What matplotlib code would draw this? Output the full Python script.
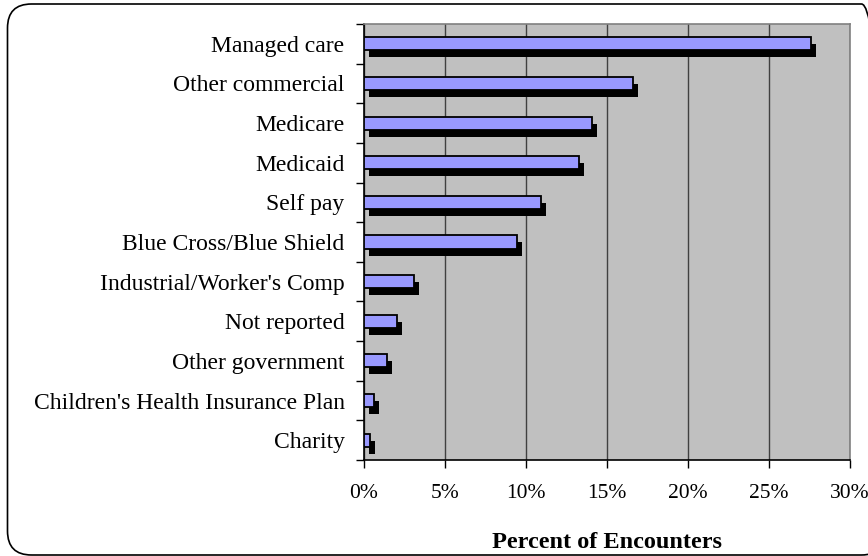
import numpy as np
import matplotlib
matplotlib.use('Agg')
import matplotlib.pyplot as plt
import matplotlib.transforms as mtransforms
from matplotlib.patches import FancyBboxPatch

categories = ['Managed care', 'Other commercial', 'Medicare', 'Medicaid', 'Self pay',
              'Blue Cross/Blue Shield', "Industrial/Worker's Comp", 'Not reported',
              'Other government', "Children's Health Insurance Plan", 'Charity']
values = [27.6, 16.6, 14.05, 13.3, 10.95, 9.45, 3.1, 2.05, 1.45, 0.6, 0.35]
xticks = [0, 5, 10, 15, 20, 25, 30]
xticklabels = ['0%', '5%', '10%', '15%', '20%', '25%', '30%']

plt.rcParams['font.family'] = ['Liberation Serif', 'DejaVu Serif']

fig = plt.figure(figsize=(8.68, 5.56), dpi=100)
ax = fig.add_axes([364/868, 96/556, 486/868, 436/556])
ax.set_facecolor('#C0C0C0')

y = np.arange(len(categories))
# drop shadow: same bars shifted a few pixels right and down
shift = ax.transData + mtransforms.ScaledTranslation(0.05, -0.07, fig.dpi_scale_trans)
ax.barh(y, values, height=0.33, color='black', transform=shift, zorder=2)
ax.barh(y, values, height=0.33, color='#9999FF', edgecolor='black', linewidth=1.3, zorder=3)

ax.set_xlim(0, 30)
ax.set_ylim(len(categories) - 0.5, -0.5)
ax.set_xticks(xticks)
ax.set_xticklabels(xticklabels, fontsize=15.5)
ax.set_yticks(y)
ax.set_yticklabels(categories, fontsize=17)
ax.tick_params(axis='y', which='major', length=0, pad=14)
ax.set_yticks(np.arange(len(categories) + 1) - 0.5, minor=True)
ax.tick_params(axis='y', which='minor', length=6, width=1, direction='out')
ax.tick_params(axis='x', length=6, width=1, direction='out', pad=11)

ax.xaxis.grid(True, color='#404040', linewidth=1.0, zorder=1)
ax.set_axisbelow(True)
for s in ['top', 'right']:
    ax.spines[s].set_color('#808080')
    ax.spines[s].set_linewidth(1.2)
for s in ['left', 'bottom']:
    ax.spines[s].set_color('black')
    ax.spines[s].set_linewidth(1.2)

ax.set_xlabel('Percent of Encounters', fontsize=17.5, fontweight='bold', labelpad=21)

# rounded frame round the whole chart, its right side runs past the image edge
border = FancyBboxPatch((0.075, 0.01), 8.78, 5.51,
                        boxstyle='round,pad=0,rounding_size=0.24',
                        transform=fig.dpi_scale_trans, facecolor='none',
                        edgecolor='black', linewidth=1.2, clip_on=False)
fig.patches.append(border)

fig.savefig('out.png', dpi=100)
